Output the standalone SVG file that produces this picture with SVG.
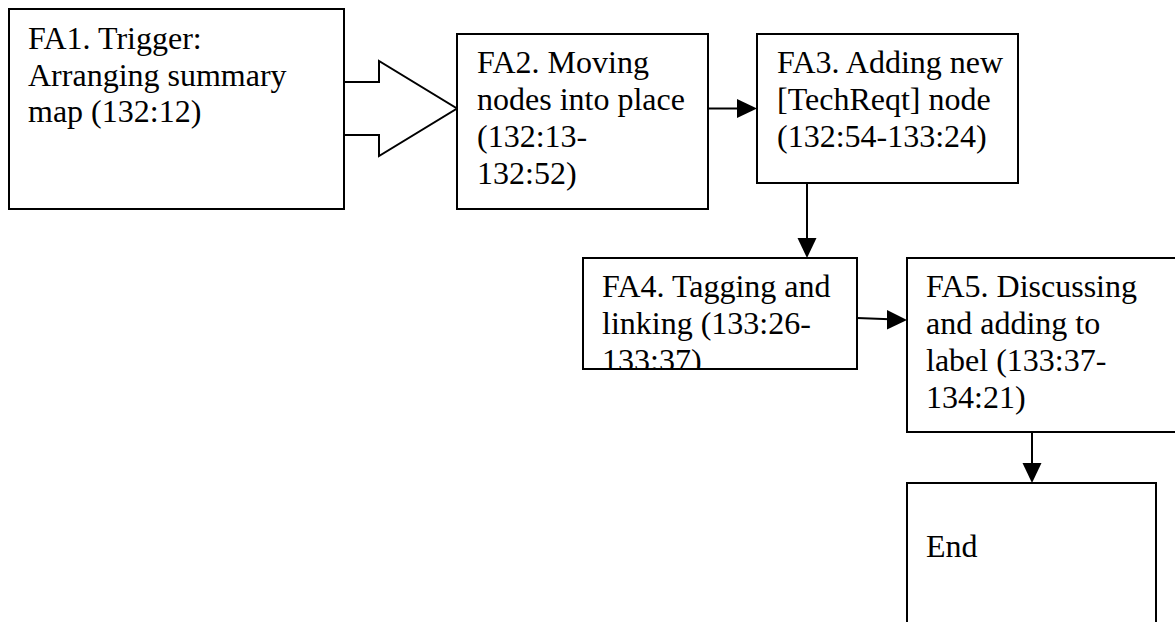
<svg xmlns="http://www.w3.org/2000/svg" width="1175" height="622" viewBox="0 0 1175 622">
<defs>
<style>
.box{fill:#fff;stroke:#000;stroke-width:2}
.t{font-family:"Liberation Serif","Times New Roman",serif;font-size:32px;fill:#000}
.c{stroke:#000;stroke-width:2;fill:none}
.h{fill:#000;stroke:none}
</style>
<clipPath id="clip4"><rect x="583" y="258" width="274" height="111"/></clipPath>
</defs>
<rect width="1175" height="622" fill="#fff"/>
<g id="connectors">
<path class="box" d="M344,82 H379 V61 L457,108.5 L379,156 V135 H344 Z"/>
<line class="c" x1="708" y1="108.5" x2="740" y2="108.5"/>
<polygon class="h" points="737,99 757,108.5 737,118"/>
<line class="c" x1="807" y1="183" x2="807" y2="240"/>
<polygon class="h" points="797.5,238 816.5,238 807,258"/>
<line class="c" x1="857" y1="318" x2="890" y2="319.3"/>
<polygon class="h" points="887,310 907,320 887,329.5"/>
<line class="c" x1="1032" y1="432" x2="1032" y2="466"/>
<polygon class="h" points="1022.5,463 1041.5,463 1032,483"/>
</g>
<g id="fa1">
<rect class="box" x="9" y="9" width="335" height="200"/>
<text class="t" x="28" y="49">FA1. Trigger:</text>
<text class="t" x="28" y="86">Arranging summary</text>
<text class="t" x="28" y="122">map (132:12)</text>
</g>
<g id="fa2">
<rect class="box" x="457" y="34" width="251" height="175"/>
<text class="t" x="477" y="73">FA2. Moving</text>
<text class="t" x="477" y="110">nodes into place</text>
<text class="t" x="477" y="147">(132:13-</text>
<text class="t" x="477" y="184">132:52)</text>
</g>
<g id="fa3">
<rect class="box" x="757" y="34" width="261" height="149"/>
<text class="t" x="777" y="73">FA3. Adding new</text>
<text class="t" x="777" y="110">[TechReqt] node</text>
<text class="t" x="777" y="147">(132:54-133:24)</text>
</g>
<g id="fa4">
<rect class="box" x="583" y="258" width="274" height="111"/>
<g clip-path="url(#clip4)">
<text class="t" x="602" y="297">FA4. Tagging and</text>
<text class="t" x="602" y="334">linking (133:26-</text>
<text class="t" x="602" y="371">133:37)</text>
</g>
<rect x="583" y="258" width="274" height="111" fill="none" stroke="#000" stroke-width="2"/>
</g>
<g id="fa5">
<rect class="box" x="907" y="258" width="280" height="174"/>
<text class="t" x="926" y="297">FA5. Discussing</text>
<text class="t" x="926" y="334">and adding to</text>
<text class="t" x="926" y="371">label (133:37-</text>
<text class="t" x="926" y="408">134:21)</text>
</g>
<g id="end">
<rect class="box" x="907" y="483" width="249" height="160"/>
<text class="t" x="926" y="557">End</text>
</g>
</svg>
